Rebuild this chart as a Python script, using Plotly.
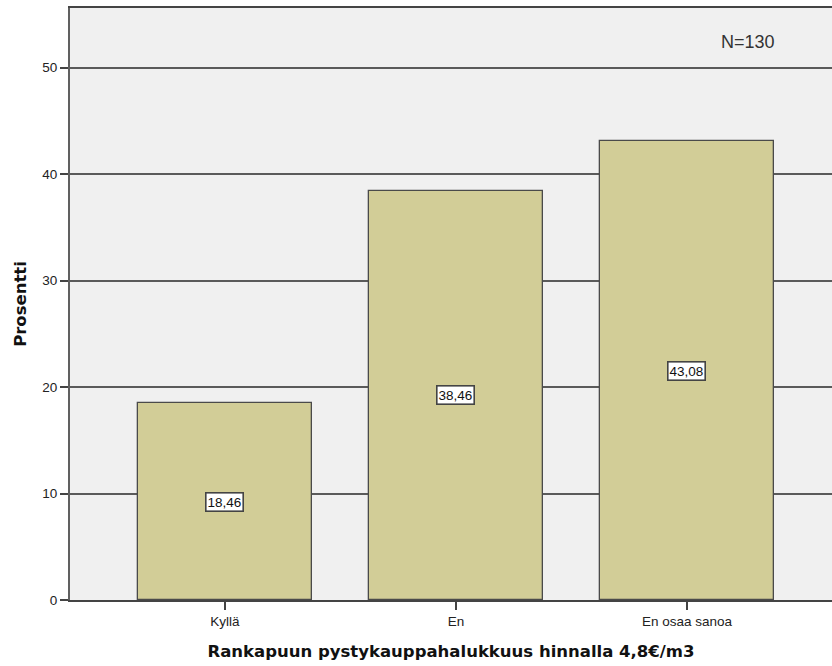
import plotly.graph_objects as go

categories = ["Kyllä", "En", "En osaa sanoa"]
percents = [18.46, 38.46, 43.08]
value_labels = ["18,46", "38,46", "43,08"]
y_ticks = [0, 10, 20, 30, 40, 50]
n_label = "N=130"

x_pos = list(range(len(categories)))

fig = go.Figure()
fig.add_trace(go.Bar(
    x=x_pos,
    y=percents,
    width=0.753,
    marker=dict(color="#d2cd97", line=dict(color="#4a4a4a", width=1.3)),
    hoverinfo="skip",
))

# value boxes at half bar height
for xp, v, lab in zip(x_pos, percents, value_labels):
    fig.add_annotation(
        x=xp, y=v / 2, text=lab, showarrow=False,
        font=dict(family="Liberation Sans, Arial", size=13.5, color="#111"),
        bgcolor="white", bordercolor="#444", borderwidth=1.6, borderpad=1,
    )

fig.add_annotation(
    x=2.265, y=52.4, text=n_label, showarrow=False,
    font=dict(family="Liberation Sans, Arial", size=18, color="#333"),
)

fig.update_layout(
    width=832, height=666,
    margin=dict(l=70, r=0, t=8, b=66),
    paper_bgcolor="white",
    plot_bgcolor="#f0f0f0",
    showlegend=False,
    bargap=0,
    xaxis=dict(
        range=[-0.671, 2.628],
        tickvals=x_pos, ticktext=categories,
        ticks="outside", ticklen=8, tickcolor="#444", tickwidth=1.6,
        tickfont=dict(family="Liberation Sans, Arial", size=13.5, color="#222"),
        showgrid=False, zeroline=False,
        showline=True, linecolor="#444", linewidth=1.8, mirror=True,
        title=dict(text="<b>Rankapuun pystykauppahalukkuus hinnalla 4,8€/m3</b>",
                   font=dict(family="DejaVu Sans", size=16.5, color="#111"), standoff=17),
    ),
    yaxis=dict(
        range=[0, 55.6],
        tickvals=y_ticks,
        ticks="outside", ticklen=8, tickcolor="#444", tickwidth=1.6,
        tickfont=dict(family="Liberation Sans, Arial", size=13.5, color="#222"),
        showgrid=True, gridcolor="#5a5a5a", gridwidth=1.8,
        zeroline=False,
        showline=True, linecolor="#606060", linewidth=2,
        title=dict(text="<b>Prosentti</b>",
                   font=dict(family="DejaVu Sans", size=16.5, color="#111"), standoff=11),
    ),
)

fig.write_html("out.html")
